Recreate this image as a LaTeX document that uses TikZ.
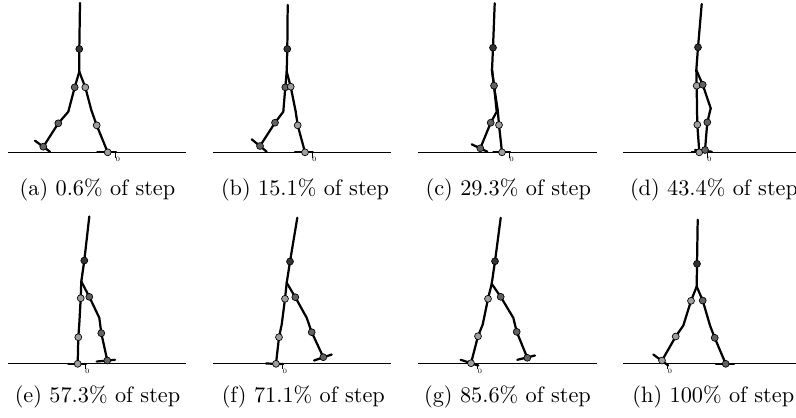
\documentclass[tikz,border=0pt]{standalone}
\usepackage{tikz}

\begin{document}
\begin{tikzpicture}[x=0.4485pt,y=-0.4485pt,
  bone/.style={line width=1pt, line join=round, line cap=round},
  ground/.style={line width=0.6pt},
  hipdot/.style={fill=black!80, draw=black, line width=0.3pt},
  swingdot/.style={fill=black!62, draw=black, line width=0.3pt},
  stancedot/.style={fill=black!38, draw=black, line width=0.3pt},
  marktick/.style={line width=0.3pt},
  zero/.style={font=\fontsize{3}{3}\selectfont, inner sep=0pt},
  subcap/.style={inner sep=0pt}]
  \useasboundingbox (0,0) rectangle (796,417);

  % (a)
  \begin{scope}[shift={(8,0)}]
    \draw[ground] (0,152.3)--(178,152.3);
    \draw[bone] (71.3,71.7)--(77.3,87.3)--(83.3,110)--(88.7,125.3)--(99.7,152.3);
    \draw[bone] (89.3,152.3)--(108,152.3);
    \draw[bone] (71.3,71.7)--(66.7,87.3)--(60.3,111.7)--(50.3,123.3)--(35.3,146.7);
    \draw[bone] (27,140.7)--(42,151.7);
    \draw[bone] (72,3)--(71.3,49)--(71.3,71.7);
    \draw[marktick] (107.7,152.3)--(107.7,157.5);
    \node[zero] (zero-a) at (110,159.5) {0};
    \filldraw[hipdot] (71.3,49) circle (1.55pt);
    \filldraw[stancedot] (77.3,87.3) circle (1.55pt) (88.7,125.3) circle (1.55pt) (99.7,152.3) circle (1.55pt);
    \filldraw[swingdot] (66.7,87.3) circle (1.55pt) (50.3,123.3) circle (1.55pt) (35.3,146.7) circle (1.55pt);
  \end{scope}

  % (b)
  \begin{scope}[shift={(213,0)}]
    \draw[ground] (0,152.3)--(178,152.3);
    \draw[bone] (73.7,71.7)--(77.7,86.7)--(82.7,111.7)--(84.7,125.3)--(92,152.3);
    \draw[bone] (82,152.3)--(99.7,152.3);
    \draw[bone] (73.7,71.7)--(72.3,87.3)--(70.3,111.7)--(62,122.7)--(47,146);
    \draw[bone] (38.7,139.3)--(53.7,151.7);
    \draw[bone] (74.7,5)--(74.3,49)--(73.7,71.7);
    \draw[marktick] (99,152.3)--(99,157.5);
    \node[zero] (zero-b) at (101.3,159.3) {0};
    \filldraw[hipdot] (74.3,49) circle (1.55pt);
    \filldraw[swingdot] (72.3,87.3) circle (1.55pt) (62,122.7) circle (1.55pt) (47,146) circle (1.55pt);
    \filldraw[stancedot] (77.7,86.7) circle (1.55pt) (84.7,125.3) circle (1.55pt) (92,152.3) circle (1.55pt);
  \end{scope}

  % (c)
  \begin{scope}[shift={(418,0)}]
    \draw[ground] (0,152.3)--(178.7,152.3);
    \draw[bone] (74,70)--(76,86)--(79.7,110)--(81,125)--(84,152.3);
    \draw[bone] (75.3,152.3)--(92,152.3);
    \draw[bone] (74,70)--(76,85.7)--(78.7,111.7)--(72.7,122.7)--(62.3,148.3);
    \draw[bone] (53.7,144.3)--(69.3,151.7);
    \draw[bone] (76.7,3.3)--(75,47.7)--(74,70);
    \draw[marktick] (91.4,152.3)--(91.4,157.5);
    \node[zero] (zero-c) at (93.7,159.3) {0};
    \filldraw[hipdot] (75,47.7) circle (1.55pt);
    \filldraw[stancedot] (81,125) circle (1.55pt) (84,152.3) circle (1.55pt);
    \filldraw[swingdot] (76,85.7) circle (1.55pt) (72.7,122.7) circle (1.55pt) (62.3,148.3) circle (1.55pt);
  \end{scope}

  % (d)
  \begin{scope}[shift={(623,0)}]
    \draw[ground] (0,152.3)--(178,152.3);
    \draw[bone] (73.3,70)--(73.7,85.7)--(74,110)--(74.3,124.7)--(76.3,152.3);
    \draw[bone] (68.7,152.3)--(83.7,152.3);
    \draw[bone] (73.3,70)--(79.7,84.7)--(87.7,108.3)--(84.3,122.3)--(82,150);
    \draw[bone] (72,150)--(88.7,151.7);
    \draw[bone] (78.7,4)--(75,47.3)--(73.3,70);
    \draw[marktick] (84,152.3)--(84,157.5);
    \node[zero] (zero-d) at (86.3,159.3) {0};
    \filldraw[hipdot] (75,47.3) circle (1.55pt);
    \filldraw[stancedot] (73.7,85.7) circle (1.55pt) (74.3,124.7) circle (1.55pt) (76.3,152.3) circle (1.55pt);
    \filldraw[swingdot] (79.7,84.7) circle (1.55pt) (84.3,122.3) circle (1.55pt) (82,150) circle (1.55pt);
  \end{scope}

  % (e)
  \begin{scope}[shift={(8,211.5)}]
    \draw[ground] (0,152.3)--(178,152.3);
    \draw[bone] (73.3,70)--(72.7,86.7)--(71.3,112.3)--(70.3,125.7)--(69.7,152.3);
    \draw[bone] (60.3,152.3)--(78,152.3);
    \draw[bone] (73.3,70)--(81.3,85.3)--(91.3,106.3)--(93.3,121.7)--(99.3,149);
    \draw[bone] (88.7,150)--(107,148.3);
    \draw[bone] (81.3,5)--(76.3,49)--(73.3,70);
    \draw[marktick] (77,152.3)--(77,157.5);
    \node[zero] (zero-e) at (79.3,159.7) {0};
    \filldraw[hipdot] (76.3,49) circle (1.55pt);
    \filldraw[stancedot] (72.7,86.7) circle (1.55pt) (70.3,125.7) circle (1.55pt) (69.7,152.3) circle (1.55pt);
    \filldraw[swingdot] (81.3,85.3) circle (1.55pt) (93.3,121.7) circle (1.55pt) (99.3,149) circle (1.55pt);
  \end{scope}

  % (f)
  \begin{scope}[shift={(213,211.5)}]
    \draw[ground] (0,152.3)--(178,152.3);
    \draw[bone] (73.7,71.3)--(72,87.3)--(68.7,113)--(66,125.7)--(63,152.3);
    \draw[bone] (53,152)--(70.3,152.5);
    \draw[bone] (73.7,71.3)--(82.3,85.7)--(93.7,106.3)--(98.7,120.7)--(110.3,145.7);
    \draw[bone] (101,149)--(118.7,143);
    \draw[bone] (84.3,6.3)--(77,50)--(73.7,71.3);
    \draw[marktick] (69.7,152.3)--(69.7,157.5);
    \node[zero] (zero-f) at (72,159.7) {0};
    \filldraw[hipdot] (77,50) circle (1.55pt);
    \filldraw[stancedot] (72,87.3) circle (1.55pt) (66,125.7) circle (1.55pt) (63,152.3) circle (1.55pt);
    \filldraw[swingdot] (82.3,85.7) circle (1.55pt) (98.7,120.7) circle (1.55pt) (110.3,145.7) circle (1.55pt);
  \end{scope}

  % (g)
  \begin{scope}[shift={(418,211.5)}]
    \draw[ground] (0,152.3)--(178.7,152.3);
    \draw[bone] (73.7,72.3)--(70,87.3)--(64.7,113)--(60,124.7)--(53,151.7);
    \draw[bone] (42.7,148.3)--(60.3,154);
    \draw[bone] (73.7,72.3)--(82.7,85.3)--(95.3,106.3)--(98.7,120.3)--(109.3,146.3);
    \draw[bone] (99.3,148.3)--(117,144);
    \draw[bone] (82.7,6.3)--(77,49.7)--(73.7,72.3);
    \draw[marktick] (59.7,152.3)--(59.7,157.5);
    \node[zero] (zero-g) at (62,159.7) {0};
    \filldraw[hipdot] (77,49.7) circle (1.55pt);
    \filldraw[stancedot] (70,87.3) circle (1.55pt) (60,124.7) circle (1.55pt) (53,151.7) circle (1.55pt);
    \filldraw[swingdot] (82.7,85.3) circle (1.55pt) (98.7,120.3) circle (1.55pt) (109.3,146.3) circle (1.55pt);
  \end{scope}

  % (h)
  \begin{scope}[shift={(623,211.5)}]
    \draw[ground] (0,152.3)--(178,152.3);
    \draw[bone] (73.7,75)--(68,89.3)--(60.3,114)--(52.7,125)--(39,149);
    \draw[bone] (30.3,143)--(45.3,154);
    \draw[bone] (73.7,75)--(79.7,89)--(87,114)--(91.7,126.3)--(102.7,152.3);
    \draw[bone] (93,152.3)--(111,152.3);
    \draw[bone] (74.7,8.3)--(74,52.3)--(73.7,75);
    \draw[marktick] (44.7,152.3)--(44.7,157.5);
    \node[zero] (zero-h) at (47,159.7) {0};
    \filldraw[hipdot] (74,52.3) circle (1.55pt);
    \filldraw[stancedot] (68,89.3) circle (1.55pt) (52.7,125) circle (1.55pt) (39,149) circle (1.55pt);
    \filldraw[swingdot] (79.7,89) circle (1.55pt) (91.7,126.3) circle (1.55pt) (102.7,152.3) circle (1.55pt);
  \end{scope}

  % captions
  \node[subcap] (cap-a) at (97.5,189.5) {(a) 0.6\% of step};
  \node[subcap] (cap-b) at (305,189.5) {(b) 15.1\% of step};
  \node[subcap] (cap-c) at (508.3,189.5) {(c) 29.3\% of step};
  \node[subcap] (cap-d) at (714,189.5) {(d) 43.4\% of step};
  \node[subcap] (cap-e) at (97.5,396.5) {(e) 57.3\% of step};
  \node[subcap] (cap-f) at (303.3,396.5) {(f) 71.1\% of step};
  \node[subcap] (cap-g) at (507.5,396.5) {(g) 85.6\% of step};
  \node[subcap] (cap-h) at (713.3,396.5) {(h) 100\% of step};
\end{tikzpicture}
\end{document}
